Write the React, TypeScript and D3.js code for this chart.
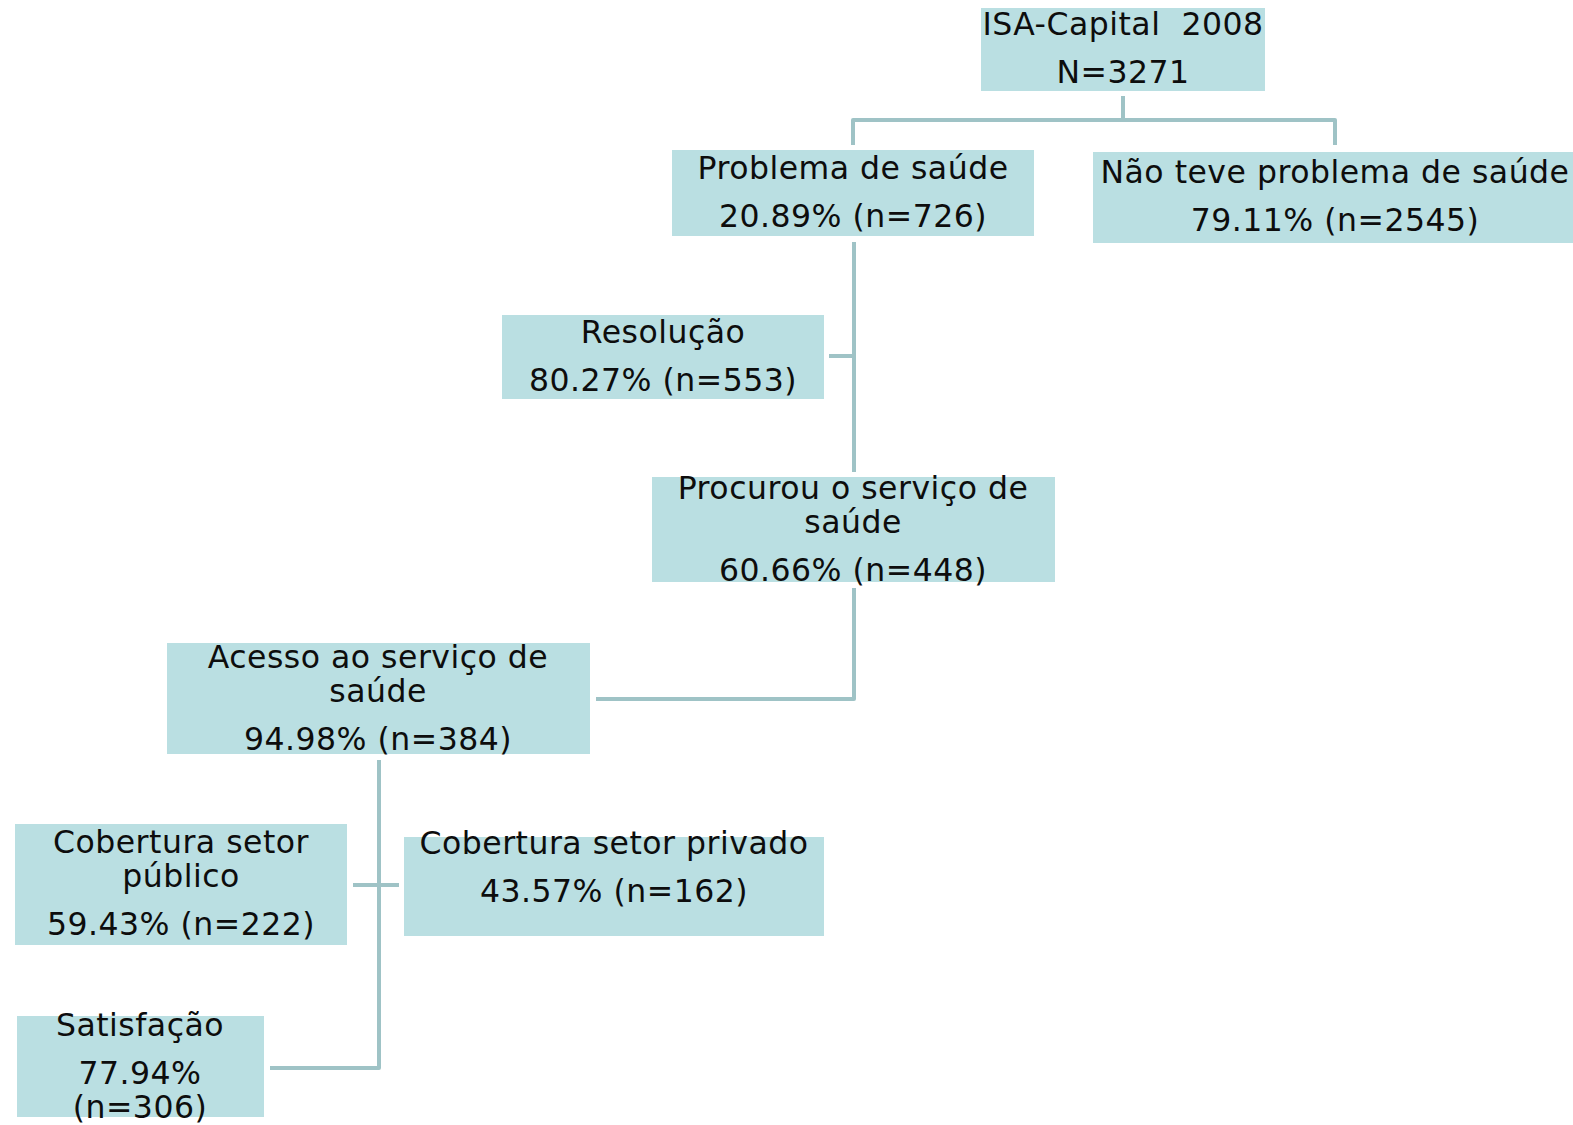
import { useEffect, useRef } from 'react'
import * as d3 from 'd3'

// node data
const LABELS = [
  ['ISA-Capital  2008'],
  ['Problema de saúde'],
  ['Não teve problema de saúde'],
  ['Resolução'],
  ['Procurou o serviço de', 'saúde'],
  ['Acesso ao serviço de', 'saúde'],
  ['Cobertura setor', 'público'],
  ['Cobertura setor privado'],
  ['Satisfação'],
]
const PCT = [null, '20.89%', '79.11%', '80.27%', '60.66%', '94.98%', '59.43%', '43.57%', '77.94%']
const NVAL = ['N=3271', 'n=726', 'n=2545', 'n=553', 'n=448', 'n=384', 'n=222', 'n=162', 'n=306']

// layout (box rect + text anchor + first line centre)
const LAYOUT = [
  { x0: 981, x1: 1265, y0: 8, y1: 91, cx: 1123, ty: 24 },
  { x0: 672, x1: 1034, y0: 150, y1: 236, cx: 853, ty: 168 },
  { x0: 1093, x1: 1573, y0: 152, y1: 243, cx: 1335, ty: 172 },
  { x0: 502, x1: 824, y0: 315, y1: 399, cx: 663, ty: 332 },
  { x0: 652, x1: 1055, y0: 477, y1: 582, cx: 853, ty: 488 },
  { x0: 167, x1: 590, y0: 643, y1: 754, cx: 378, ty: 657 },
  { x0: 15, x1: 347, y0: 824, y1: 945, cx: 181, ty: 842 },
  { x0: 404, x1: 824, y0: 837, y1: 936, cx: 614, ty: 843 },
  { x0: 17, x1: 264, y0: 1016, y1: 1117, cx: 140, ty: 1025 },
]
// nodes whose value line wraps
const WRAP_VALUE = [8]

const CONNECTORS: [number, number][][] = [
  [[1123, 96], [1123, 120]],
  [[853, 145], [853, 120], [1335, 120], [1335, 145]],
  [[854, 242], [854, 472]],
  [[829, 356], [854, 356]],
  [[854, 588], [854, 699], [596, 699]],
  [[379, 760], [379, 1068], [270, 1068]],
  [[353, 885], [399, 885]],
]

const W = 1573, H = 1125
const FILL = '#badfe2'
const LINE = '#9fc3c6'
const FS = 31.5

export default function App() {
  const ref = useRef<SVGSVGElement>(null)

  useEffect(() => {
    if (!ref.current) return
    const svg = d3.select(ref.current)
    svg.selectAll('*').remove()

    const line = d3.line()

    svg.append('g').selectAll('path').data(CONNECTORS).join('path')
      .attr('d', d => line(d))
      .attr('fill', 'none').attr('stroke', LINE).attr('stroke-width', 4)
      .attr('stroke-linejoin', 'round')

    LAYOUT.forEach((b, i) => {
      const g = svg.append('g')
      g.append('rect').attr('x', b.x0).attr('y', b.y0)
        .attr('width', b.x1 - b.x0).attr('height', b.y1 - b.y0).attr('fill', FILL)

      const lines: { t: string; y: number }[] = []
      let y = b.ty
      LABELS[i].forEach((t, k) => {
        if (k > 0) y += 33.5
        lines.push({ t, y })
      })
      y += 48
      if (PCT[i] && WRAP_VALUE.includes(i)) {
        lines.push({ t: PCT[i] as string, y })
        y += 33.5
        lines.push({ t: `(${NVAL[i]})`, y })
      } else if (PCT[i]) {
        lines.push({ t: `${PCT[i]} (${NVAL[i]})`, y })
      } else {
        lines.push({ t: NVAL[i], y })
      }

      g.selectAll('text').data(lines).join('text')
        .attr('x', b.cx).attr('y', d => d.y).attr('dy', '0.36em')
        .attr('text-anchor', 'middle')
        .attr('font-family', '"DejaVu Sans", Verdana, sans-serif')
        .attr('font-size', FS).attr('fill', '#0d0d0d')
        .attr('letter-spacing', 0.5)
        .style('white-space', 'pre')
        .text(d => d.t)
    })
  }, [])

  return (
    <svg ref={ref} width={W} height={H} viewBox={`0 0 ${W} ${H}`}
      style={{ position: 'absolute', left: 0, top: 0, background: '#fff', display: 'block' }} />
  )
}
